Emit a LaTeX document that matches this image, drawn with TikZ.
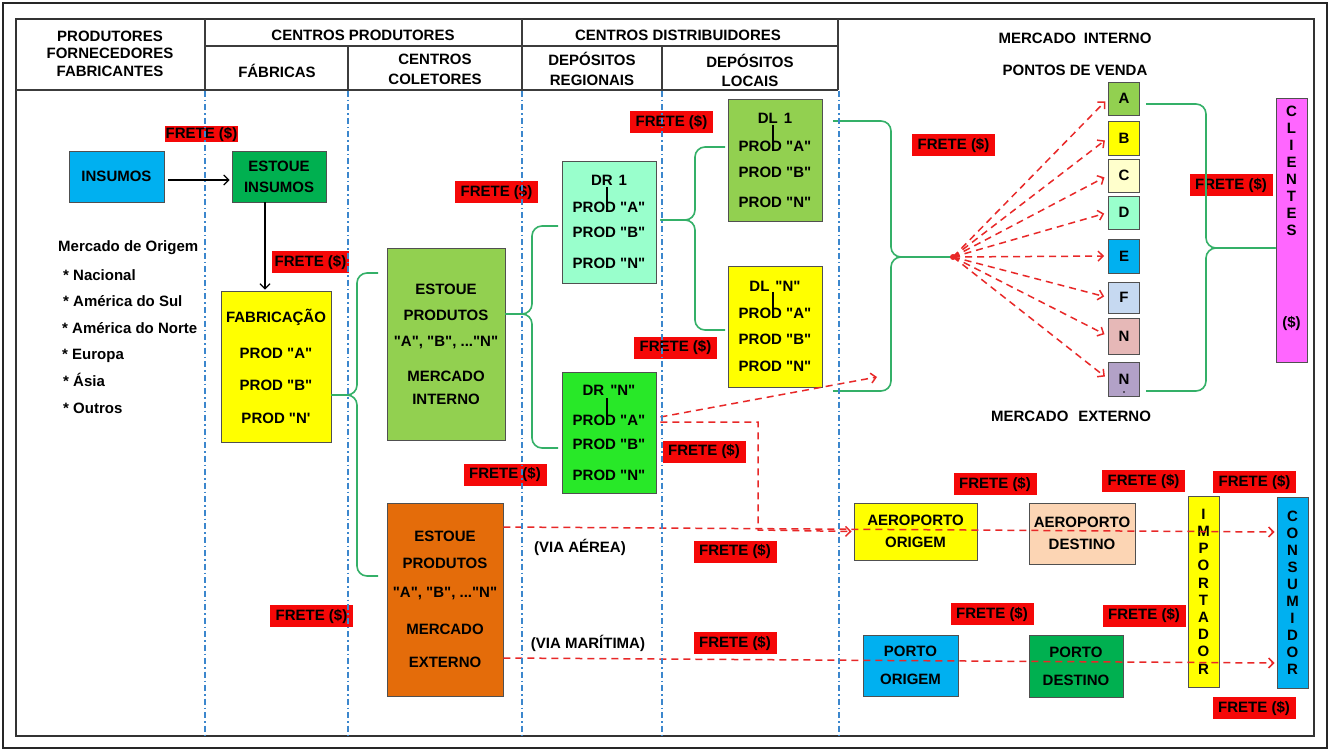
\documentclass[tikz,border=0pt]{standalone}
\usepackage{fontspec}
\setmainfont{Liberation Sans}
% a family without TeX ligature mapping, so that " stays a straight quote
\newfontfamily\lsans{Liberation Sans}
\usetikzlibrary{arrows.meta,calc}

\definecolor{boxline}{RGB}{80,80,80}
\definecolor{rulegray}{RGB}{60,60,60}
\definecolor{freteRed}{RGB}{245,8,8}
\definecolor{braceGreen}{RGB}{52,176,104}
\definecolor{dashRed}{RGB}{232,40,40}
\definecolor{sepBlue}{RGB}{60,135,205}
\definecolor{cyanB}{RGB}{0,176,240}
\definecolor{darkG}{RGB}{0,176,80}
\definecolor{yel}{RGB}{255,255,0}
\definecolor{oliveG}{RGB}{146,208,80}
\definecolor{orangeB}{RGB}{228,108,10}
\definecolor{aqua}{RGB}{153,255,204}
\definecolor{brightG}{RGB}{40,232,40}
\definecolor{paleY}{RGB}{255,255,204}
\definecolor{paleBlue}{RGB}{198,217,241}
\definecolor{rose}{RGB}{230,184,183}
\definecolor{lavender}{RGB}{178,161,199}
\definecolor{magentaB}{RGB}{255,102,255}
\definecolor{peach}{RGB}{252,213,180}

\tikzset{
  every node/.style={font=\lsans\fontsize{15}{17}\selectfont\bfseries, inner sep=0pt, text=black},
  box/.style={draw=boxline, line width=0.9pt, fill=#1, align=center},
  sz/.style 2 args={minimum width=#1, minimum height=#2},
  frete/.style={fill=freteRed, minimum width=83pt, minimum height=22pt},
  tablerule/.style={draw=rulegray, line width=1.5pt},
  colsep/.style={draw=sepBlue, line width=1.4pt, dash pattern=on 6pt off 3pt on 1.5pt off 3pt},
  gbrace/.style={draw=braceGreen, line width=1.6pt, rounded corners=10pt},
  rdash/.style={draw=dashRed, line width=1.5pt, dash pattern=on 7pt off 5pt},
  rarrow/.style={rdash, -{Straight Barb[length=5pt,width=10pt]}},
  flow/.style={draw=black, line width=1.2pt, -{Straight Barb[length=5pt,width=10pt]}},
  tick/.style={draw=black, line width=1.1pt},
  listtxt/.style={anchor=base west},
}

\begin{document}
\begin{tikzpicture}[x=1pt,y=-1pt]
\useasboundingbox (0,0) rectangle (1333,751);
\fill[white] (0,0) rectangle (1333,751);

% frames
\draw[line width=2.5pt, black!85] (3,3) rectangle (1327,748);
\draw[line width=1.8pt, black!80] (16,19) rectangle (1314,736);

% header table
\draw[tablerule] (16,90) -- (838,90);
\draw[tablerule] (205,46) -- (838,46);
\draw[tablerule] (205,19) -- (205,90);
\draw[tablerule] (522,19) -- (522,90);
\draw[tablerule] (838,19) -- (838,90);
\draw[tablerule] (348,46) -- (348,90);
\draw[tablerule] (662,46) -- (662,90);

\node[align=center] (hProd) at (110,53.5) {PRODUTORES\\[0.5pt]FORNECEDORES\\[0.5pt]FABRICANTES};
\node (hCP) at (363,35) {CENTROS PRODUTORES};
\node (hFab) at (277,71) {FÁBRICAS};
\node[align=center] (hCol) at (435,69) {CENTROS\\[3pt]COLETORES};
\node (hCD) at (678,35) {CENTROS DISTRIBUIDORES};
\node[align=center] (hDR) at (592,69) {DEPÓSITOS\\[3pt]REGIONAIS};
\node[align=center] (hDL) at (750,70.5) {DEPÓSITOS\\[2pt]LOCAIS};
\node (hMI) at (1075,38) {MERCADO\hspace{8pt}INTERNO};
\node (hPV) at (1075,70) {PONTOS DE VENDA};
\node (hME) at (1071,416) {MERCADO\hspace{10pt}EXTERNO};

% origin markets
\node[listtxt] (mo) at (58,252) {Mercado de Origem};
\node[listtxt] (mo1) at (63,280) {* Nacional};
\node[listtxt] (mo2) at (63,307) {* América do Sul};
\node[listtxt] (mo3) at (62,333) {* América do Norte};
\node[listtxt] (mo4) at (62,359) {* Europa};
\node[listtxt] (mo5) at (63,386) {* Ásia};
\node[listtxt] (mo6) at (63,413) {* Outros};

% freight labels
\node[frete, sz={73pt}{16pt}] (f1) at (201.5,134.5) {FRETE (\$)};
\node[frete, sz={77pt}{22pt}] (f2) at (310.5,262) {FRETE (\$)};
\node[frete] (f3) at (496.5,192) {FRETE (\$)};
\node[frete] (f4) at (671.5,122) {FRETE (\$)};
\node[frete] (f5) at (953.5,145.5) {FRETE (\$)};
\node[frete] (f6) at (1231,185.5) {FRETE (\$)};
\node[frete] (f7) at (675.5,347.5) {FRETE (\$)};
\node[frete] (f8) at (704,451.5) {FRETE (\$)};
\node[frete] (f9) at (505,474.5) {FRETE (\$)};
\node[frete] (f10) at (735,551.5) {FRETE (\$)};
\node[frete] (f11) at (995,484) {FRETE (\$)};
\node[frete] (f12) at (1143.5,481) {FRETE (\$)};
\node[frete] (f13) at (1254.5,482) {FRETE (\$)};
\node[frete] (f14) at (311.5,616) {FRETE (\$)};
\node[frete] (f15) at (735,643) {FRETE (\$)};
\node[frete] (f16) at (992,614) {FRETE (\$)};
\node[frete] (f17) at (1144,615.5) {FRETE (\$)};
\node[frete] (f18) at (1254,708) {FRETE (\$)};

% production side
\node[box=cyanB, sz={95pt}{51pt}] (insumos) at (116.5,176.5) {INSUMOS};
\node[box=darkG, sz={94pt}{51pt}] (estins) at (279,176.5) {ESTOUE\\[4pt]INSUMOS};
\node[box=yel, sz={110pt}{151pt}] (fab) at (276,366.5)
  {FABRICAÇÃO\\[19pt]PROD "A"\\[15pt]PROD "B"\\[16pt]PROD "N'};
\node[box=oliveG, sz={118pt}{192pt}] (estint) at (446,344)
  {ESTOUE\\[9pt]PRODUTOS\\[9pt]"A", "B", ..."N"\\[18pt]MERCADO\\[6pt]INTERNO};
\node[box=orangeB, sz={116pt}{193pt}] (estext) at (445,599.5)
  {ESTOUE\\[10pt]PRODUTOS\\[12pt]"A", "B", ..."N"\\[20pt]MERCADO\\[16pt]EXTERNO};

% distribution centres
\node[box=aqua, sz={94pt}{122pt}] (dr1) at (609,222)
  {DR\hspace{6pt}1\\[10pt]PROD "A"\\[8pt]PROD "B"\\[14pt]PROD "N"};
\node[box=brightG, sz={94pt}{121pt}] (drn) at (609,432.5)
  {DR\hspace{6pt}"N"\\[13pt]PROD "A"\\[7pt]PROD "B"\\[14pt]PROD "N"};
\node[box=oliveG, sz={94pt}{122pt}] (dl1) at (775,160)
  {DL\hspace{6pt}1\\[11pt]PROD "A"\\[9pt]PROD "B"\\[13pt]PROD "N"};
\node[box=yel, sz={94pt}{121pt}] (dln) at (775,326.5)
  {DL\hspace{6pt}"N"\\[10pt]PROD "A"\\[9pt]PROD "B"\\[10pt]PROD "N"};
\draw[tick] (607,187) -- (607,210);
\draw[tick] (607,398) -- (607,420);
\draw[tick] (773,125) -- (773,148);
\draw[tick] (773,292) -- (773,317);

% points of sale
\node[box=oliveG, sz={31pt}{33pt}] (pvA) at (1124,98.5) {A};
\node[box=yel, sz={31pt}{34pt}] (pvB) at (1124,138) {B};
\node[box=paleY, sz={31pt}{33pt}] (pvC) at (1124,175.5) {C};
\node[box=aqua, sz={31pt}{33pt}] (pvD) at (1124,212.5) {D};
\node[box=cyanB, sz={31pt}{34pt}] (pvE) at (1124,256) {E};
\node[box=paleBlue, sz={31pt}{31pt}] (pvF) at (1124,297.5) {F};
\node[box=rose, sz={31pt}{36pt}] (pvN) at (1124,336) {N};
\node[box=lavender, sz={31pt}{34pt}] (pvNN) at (1124,379) {N};
\fill[black] (1124,392) circle (0.9pt);

\node[box=magentaB, sz={31pt}{264pt}] (cli) at (1291.5,230) {};
\node[align=center, anchor=north] (clitxt) at ($(cli.north)+(0,8)$)
  {C\\L\\I\\E\\N\\T\\E\\S\\[75pt](\$)};

% export chain
\node[box=yel, sz={123pt}{57pt}] (aerO) at (915.5,531.5) {AEROPORTO\\[5pt]ORIGEM};
\node[box=peach, sz={106pt}{61pt}] (aerD) at (1082,533.5) {AEROPORTO\\[5pt]DESTINO};
\node[box=cyanB, sz={95pt}{61pt}] (porO) at (910.5,665.5) {PORTO\\[11pt]ORIGEM};
\node[box=darkG, sz={94pt}{62pt}] (porD) at (1076,666) {PORTO\\[11pt]DESTINO};
\node[box=yel, sz={31pt}{191pt}, font=\lsans\fontsize{15}{17.2}\selectfont\bfseries] (imp) at (1203.5,591.5)
  {I\\M\\P\\O\\R\\T\\A\\D\\O\\R};
\node[box=cyanB, sz={31pt}{191pt}] (cons) at (1292.5,592.5)
  {C\\O\\N\\S\\U\\M\\I\\D\\O\\R};

\node (via1) at (580,547) {(VIA AÉREA)};
\node (via2) at (588,643) {(VIA MARÍTIMA)};

% black flows
\draw[flow] ($(insumos.east)+(4,3.5)$) -- ($(estins.west)+(-2,3.5)$);
\draw[flow] ($(estins.south)+(-14,0)$) -- ($(fab.north)+(-11,-1)$);

% green braces
\coordinate (b1tip) at ($(fab.east)+(0,28.5)$);
\draw[gbrace] (378,273) -| (357,395) -- (b1tip);
\draw[gbrace] (b1tip) -- (357,395) |- (378,576);

\coordinate (b2tip) at ($(estint.east)+(0,-30)$);
\draw[gbrace] (558,226) -| (532,314) -- (b2tip);
\draw[gbrace] (b2tip) -- (532,314) |- (558,448);

\coordinate (b3tip) at ($(dr1.east)+(4,-2)$);
\draw[gbrace] (725,147) -| (695,220) -- (b3tip);
\draw[gbrace] (b3tip) -- (695,220) |- (725,330);

\coordinate (fan) at (953,257);
\draw[gbrace] (833,121) -| (891,257) -- (fan);
\draw[gbrace] (fan) -- (891,257) |- (833,391);

\coordinate (b5tip) at ($(cli.west)+(0,18)$);
\draw[gbrace] (1146,104) -| (1206,248) -- (b5tip);
\draw[gbrace] (b5tip) -- (1206,248) |- (1146,391);

% red dashed flows
\fill[dashRed] (fan) circle (3pt);
\foreach \t in {pvA,pvB,pvC,pvD,pvE,pvF,pvN,pvNN}
  \draw[rarrow, shorten >=4pt] (fan) -- (\t.west);

\coordinate (drnOut) at (877,377);
\draw[rarrow] ($(drn.east)+(4,-15.5)$) -- (drnOut);
\draw[rarrow] ($(drn.east)+(4,-10.5)$) -| (758,530) -- ($(aerO.west)+(-2,0)$);
\draw[rarrow] ($(estext.east)+(0,-72.5)$) -- ($(cons.west)+(-2,-60.5)$);
\draw[rarrow] ($(estext.east)+(0,58.5)$) -- ($(cons.west)+(-2,70.5)$);

% column separators
\foreach \x in {205,348,522,662,839}
  \draw[colsep] (\x,91) -- (\x,735);
\end{tikzpicture}
\end{document}
